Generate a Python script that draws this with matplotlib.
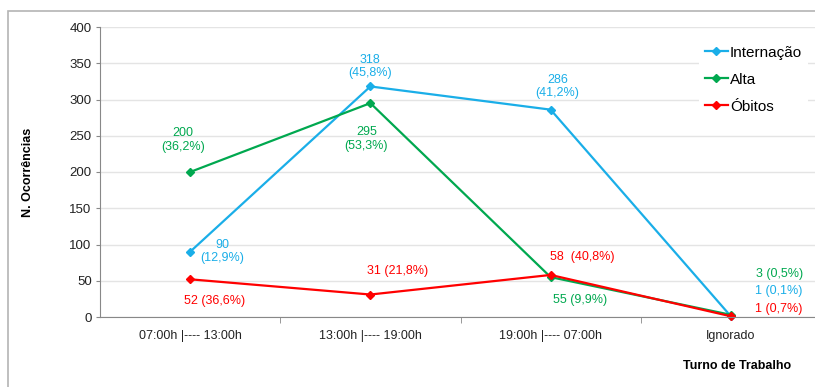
import matplotlib.pyplot as plt
from matplotlib.patches import Rectangle

plt.rcParams['font.family'] = ['Liberation Sans', 'DejaVu Sans']

turnos = ['07:00h |---- 13:00h', '13:00h |---- 19:00h', '19:00h |---- 07:00h', 'Ignorado']
internacao = [90, 318, 286, 1]
alta = [200, 295, 55, 3]
obitos = [52, 31, 58, 1]
internacao_lbl = ['90\n(12,9%)', '318\n(45,8%)', '286\n(41,2%)', '1 (0,1%)']
alta_lbl = ['200\n(36,2%)', '295\n(53,3%)', '55 (9,9%)', '3 (0,5%)']
obitos_lbl = ['52 (36,6%)', '31 (21,8%)', '58  (40,8%)', '1 (0,7%)']

# label offsets in pixels from each point
internacao_off = [(32, 0), (0, 20), (7, 23), (48, 25)]
alta_off = [(-7, 32), (-4, -36), (29, -23), (49, 41)]
obitos_off = [(24, -22), (27, 24), (32, 18), (48, 7)]

blue = '#1aaee8'
green = '#00a84f'
red = '#ff0000'

W, H = 815, 387
fig = plt.figure(figsize=(W / 100, H / 100), dpi=100)
fig.patches.append(Rectangle((8 / W, -0.1), 1.2, 1.1 - 11 / H, transform=fig.transFigure,
                             fill=False, edgecolor='#b4b4b4', linewidth=1.2))

ax = fig.add_axes([100 / W, 1 - 317 / H, 721 / W, 290 / H])
x = list(range(len(turnos)))

series = [
    (internacao, 'Internação', blue, internacao_lbl, internacao_off),
    (alta, 'Alta', green, alta_lbl, alta_off),
    (obitos, 'Óbitos', red, obitos_lbl, obitos_off),
]
for vals, name, col, lbls, offs in series:
    ax.plot(x, vals, color=col, lw=1.6, marker='D', ms=4.5, label=name, clip_on=False)
    for xi, v, t, (dx, dy) in zip(x, vals, lbls, offs):
        ax.annotate(t, (xi, v), xytext=(dx, dy), textcoords='offset pixels',
                    ha='center', va='center', color=col, fontsize=9, linespacing=1.15)

ax.set_xlim(-0.5, 3.5)
ax.set_ylim(0, 400)
ax.set_yticks(range(0, 401, 50))
ax.set_xticks(x)
ax.set_xticklabels(turnos)
ax.set_xticks([0.5, 1.5, 2.5], minor=True)
ax.tick_params(axis='x', which='major', length=0, pad=9, labelsize=9, colors='#222222')
ax.tick_params(axis='x', which='minor', length=4, color='#888888')
ax.tick_params(axis='y', length=3, pad=3, labelsize=9.5, color='#888888', labelcolor='#222222')
ax.grid(axis='y', color='#e4e4e4', lw=1)
ax.set_axisbelow(True)
for s in ['top', 'right']:
    ax.spines[s].set_visible(False)
for s in ['left', 'bottom']:
    ax.spines[s].set_color('#888888')

ax.set_ylabel('N. Ocorrências', fontsize=9, fontweight='bold')
ax.yaxis.set_label_coords(-66 / 721, 0.5)
fig.text(737 / W, 1 - 366 / H, 'Turno de Trabalho', fontsize=9, fontweight='bold',
         ha='center', va='center')

leg = ax.legend(loc='upper left', bbox_to_anchor=(691 / W, 1 - 32 / H),
                bbox_transform=fig.transFigure, fontsize=11, frameon=True,
                fancybox=False, edgecolor='none', facecolor='white', framealpha=1,
                handlelength=1.5, handletextpad=0.15, labelspacing=0.85, borderpad=0.4)

fig.savefig('out.png', dpi=100)
